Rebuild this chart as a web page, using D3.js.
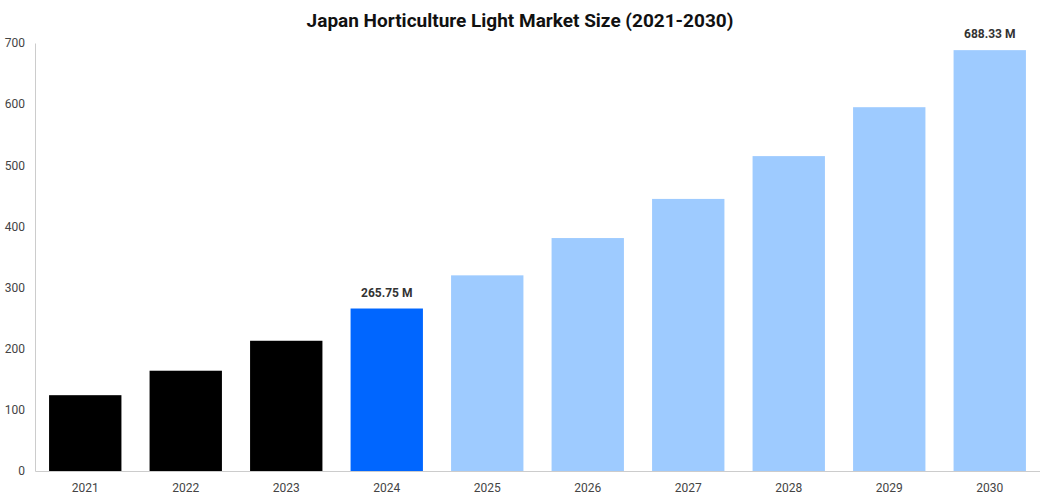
<!DOCTYPE html>
<html><head><meta charset="utf-8">
<script src="https://cdn.jsdelivr.net/npm/d3@7"></script>
<style>body{margin:0;background:#fff;font-family:Roboto,Arial,sans-serif}</style>
</head><body><svg id="c" width="1040" height="500"></svg>
<script>
const years=["2021","2022","2023","2024","2025","2026","2027","2028","2029","2030"];
const values=[124,164,213,265.75,320,381,445,515,595,688.33];
const colors=["#000000","#000000","#000000","#0066ff","#9ecbff","#9ecbff","#9ecbff","#9ecbff","#9ecbff","#9ecbff"];
const labels={"2024":"265.75 M","2030":"688.33 M"};
const yTicks=[0,100,200,300,400,500,600,700];
const svg=d3.select("#c");
const m={l:35,r:0,t:43,b:29};
const W=1040,H=500;
const x=d3.scaleBand().domain(years).range([m.l,W-m.r]).paddingInner(0.28).paddingOuter(0.14);
const y=d3.scaleLinear().domain([0,700]).range([H-m.b,m.t]);
svg.append("text").attr("x",520).attr("y",27).attr("text-anchor","middle").attr("font-size",19).attr("font-weight","bold").attr("fill","#111").text("Japan Horticulture Light Market Size (2021-2030)");
const ya=svg.append("g").attr("transform",`translate(${m.l},0)`).call(d3.axisLeft(y).tickValues(yTicks).tickSize(0).tickPadding(10));
ya.select(".domain").attr("stroke","#ccc");
ya.selectAll("text").attr("font-size",12).attr("fill","#444").attr("font-family","Roboto,Arial,sans-serif");
const xa=svg.append("g").attr("transform",`translate(0,${H-m.b})`).call(d3.axisBottom(x).tickSize(0).tickPadding(12));
xa.select(".domain").attr("stroke","#ccc");
xa.selectAll("text").attr("font-size",12).attr("fill","#444").attr("font-family","Roboto,Arial,sans-serif");
svg.selectAll("rect.b").data(years).enter().append("rect").attr("class","b")
 .attr("x",d=>x(d)).attr("width",x.bandwidth())
 .attr("y",(d,i)=>y(values[i])).attr("height",(d,i)=>y(0)-y(values[i]))
 .attr("fill",(d,i)=>colors[i]);
svg.selectAll("text.l").data(years.filter(d=>labels[d])).enter().append("text").attr("class","l")
 .attr("x",d=>x(d)+x.bandwidth()/2).attr("y",d=>y(values[years.indexOf(d)])-12)
 .attr("text-anchor","middle").attr("font-size",12).attr("font-weight","bold").attr("fill","#333").text(d=>labels[d]);
</script></body></html>
